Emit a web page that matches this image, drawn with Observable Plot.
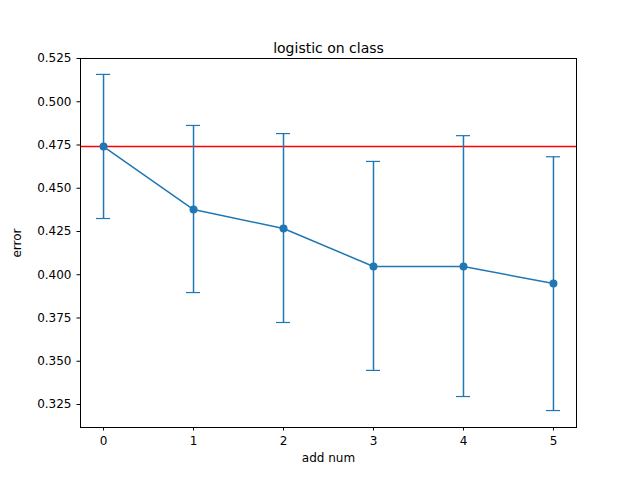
<!DOCTYPE html>
<html>
<head>
<script src="https://cdn.jsdelivr.net/npm/d3@7"></script>
<script src="https://cdn.jsdelivr.net/npm/@observablehq/plot@0.6"></script>
<style>body{margin:0;background:#fff}</style>
</head>
<body>
<div id="chart"></div>
<script>
const addNum = [0, 1, 2, 3, 4, 5]
const meanErr = [0.4741, 0.4377, 0.4267, 0.4048, 0.4048, 0.3949]
const upperErr = [0.5158, 0.4863, 0.4816, 0.4655, 0.4804, 0.4682]
const lowerErr = [0.4325, 0.3897, 0.3724, 0.3447, 0.3296, 0.3215]
const baseline = 0.4741
const yTicks = [0.325, 0.35, 0.375, 0.4, 0.425, 0.45, 0.475, 0.5, 0.525]

const data = addNum.map((x, i) => ({x, y: meanErr[i], hi: upperErr[i], lo: lowerErr[i]}))
const blue = '#1f77b4'
const cap = 0.078

const chart = Plot.plot({
  width: 640,
  height: 480,
  marginLeft: 80,
  marginRight: 64,
  marginTop: 58,
  marginBottom: 53,
  style: {fontFamily: 'DejaVu Sans', fontSize: '10.5px', background: '#fff', color: '#000'},
  x: {domain: [-0.256, 5.256]},
  y: {domain: [0.3117, 0.525]},
  marks: [
    Plot.axisX({ticks: addNum, tickSize: 3.5, tickFormat: d3.format('d'), label: 'add num', labelAnchor: 'center', labelArrow: 'none', labelOffset: 34, fontSize: 12}),
    Plot.axisY({ticks: yTicks, tickSize: 3.5, tickFormat: d3.format('.3f'), label: 'error', labelAnchor: 'center', labelArrow: 'none', labelOffset: 68, fontSize: 12}),
    Plot.ruleY([baseline], {stroke: 'red', strokeWidth: 1.5}),
    Plot.ruleX(data, {x: 'x', y1: 'lo', y2: 'hi', stroke: blue, strokeWidth: 1.5}),
    Plot.ruleY(data, {y: 'hi', x1: d => d.x - cap, x2: d => d.x + cap, stroke: blue, strokeWidth: 1.2}),
    Plot.ruleY(data, {y: 'lo', x1: d => d.x - cap, x2: d => d.x + cap, stroke: blue, strokeWidth: 1.2}),
    Plot.line(data, {x: 'x', y: 'y', stroke: blue, strokeWidth: 1.5}),
    Plot.dot(data, {x: 'x', y: 'y', fill: blue, r: 4}),
    Plot.frame({stroke: '#000'}),
    Plot.text(['logistic on class'], {frameAnchor: 'top', dy: -15, fontSize: 14})
  ]
})
d3.select('#chart').append(() => chart)
</script>
</body>
</html>
